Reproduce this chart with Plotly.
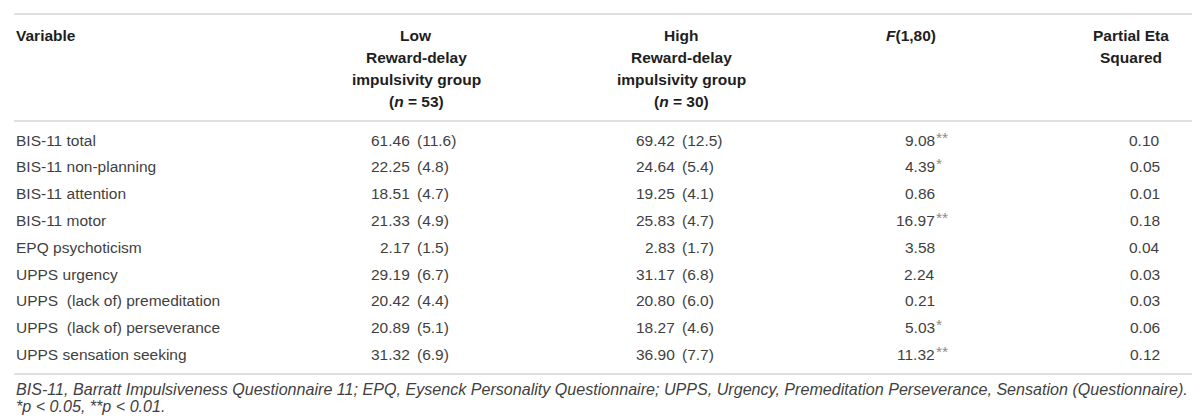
import plotly.graph_objects as go

# ---------------- data ----------------
variables = ["BIS-11 total", "BIS-11 non-planning", "BIS-11 attention", "BIS-11 motor",
             "EPQ psychoticism", "UPPS urgency", "UPPS\u00a0 (lack of) premeditation",
             "UPPS\u00a0 (lack of) perseverance", "UPPS sensation seeking"]
low_mean = ["61.46", "22.25", "18.51", "21.33", "2.17", "29.19", "20.42", "20.89", "31.32"]
low_sd = ["11.6", "4.8", "4.7", "4.9", "1.5", "6.7", "4.4", "5.1", "6.9"]
high_mean = ["69.42", "24.64", "19.25", "25.83", "2.83", "31.17", "20.80", "18.27", "36.90"]
high_sd = ["12.5", "5.4", "4.1", "4.7", "1.7", "6.8", "6.0", "4.6", "7.7"]
f_value = ["9.08", "4.39", "0.86", "16.97", "3.58", "2.24", "0.21", "5.03", "11.32"]
f_sig = ["**", "*", "", "**", "", "", "", "*", "**"]
eta_sq = ["0.10", "0.05", "0.01", "0.18", "0.04", "0.03", "0.03", "0.06", "0.12"]

header_var = ["Variable"]
header_low = ["Low", "Reward-delay", "impulsivity group", "(<i>n</i> = 53)"]
header_high = ["High", "Reward-delay", "impulsivity group", "(<i>n</i> = 30)"]
header_f = ["<i>F</i>(1,80)"]
header_eta = ["Partial Eta", "Squared"]

footnotes = [
    "BIS-11, Barratt Impulsiveness Questionnaire 11; EPQ, Eysenck Personality Questionnaire; "
    "UPPS, Urgency, Premeditation Perseverance, Sensation (Questionnaire).",
    "*p &lt; 0.05, **p &lt; 0.01.",
]

# ---------------- layout constants ----------------
W, H = 1200, 418
FONT = "Liberation Sans, Arial, Helvetica, sans-serif"
BODY_SIZE = 15.5
BODY_COLOR = "#3f3f3f"
HEAD_COLOR = "#1e1e1e"
LINE_COLOR = "#d4d4d4"

head_y0, head_dy = 27, 22
row_y0, row_dy = 132, 26.8
line_ys = [6, 113, 366]
foot_y0, foot_dy = 381, 17

col_var_x = 7
low_split = 405.5
high_split = 670.5
low_center, high_center = 408, 673
f_center, f_right = 903, 928
eta_center, eta_right = 1123, 1153

fig = go.Figure()
fig.add_trace(go.Scatter(x=[0, W], y=[0, H], mode="markers",
                         marker=dict(opacity=0), hoverinfo="skip", showlegend=False))

annotations = []


def ann(x, y, text, xanchor, size=BODY_SIZE, color=BODY_COLOR, bold=False, italic=False):
    if bold:
        text = "<b>" + text + "</b>"
    if italic:
        text = "<i>" + text + "</i>"
    annotations.append(dict(x=x, y=y, xref="x", yref="y", text=text, showarrow=False,
                            xanchor=xanchor, yanchor="middle", borderpad=0,
                            font=dict(family=FONT, size=size, color=color)))


# header
for i, t in enumerate(header_var):
    ann(col_var_x, head_y0 + i * head_dy, t, "left", color=HEAD_COLOR, bold=True)
for i, t in enumerate(header_low):
    ann(low_center, head_y0 + i * head_dy, t, "center", color=HEAD_COLOR, bold=True)
for i, t in enumerate(header_high):
    ann(high_center, head_y0 + i * head_dy, t, "center", color=HEAD_COLOR, bold=True)
for i, t in enumerate(header_f):
    ann(f_center, head_y0 + i * head_dy, t, "center", color=HEAD_COLOR, bold=True)
for i, t in enumerate(header_eta):
    ann(eta_center, head_y0 + i * head_dy, t, "center", color=HEAD_COLOR, bold=True)

# body
for i in range(len(variables)):
    y = row_y0 + i * row_dy
    ann(col_var_x, y, variables[i], "left")
    ann(low_split - 2.5, y, low_mean[i], "right")
    ann(low_split + 2.5, y, "(" + low_sd[i] + ")", "left")
    ann(high_split - 2.5, y, high_mean[i], "right")
    ann(high_split + 2.5, y, "(" + high_sd[i] + ")", "left")
    ann(f_right, y, f_value[i], "right")
    if f_sig[i]:
        ann(f_right - 1, y - 3, f_sig[i], "left", color="#8a8a8a")
    ann(eta_right, y, eta_sq[i], "right")

# footnotes
for i, t in enumerate(footnotes):
    ann(col_var_x, foot_y0 + i * foot_dy, t, "left", size=16.1, color=BODY_COLOR, italic=True)

shapes = [dict(type="line", xref="x", yref="y", x0=6, x1=1193, y0=ly, y1=ly,
               line=dict(color=LINE_COLOR, width=1.3)) for ly in line_ys]

fig.update_layout(
    width=W, height=H,
    margin=dict(l=0, r=0, t=0, b=0),
    paper_bgcolor="white", plot_bgcolor="white",
    xaxis=dict(range=[0, W], visible=False, fixedrange=True),
    yaxis=dict(range=[H, 0], visible=False, fixedrange=True),
    annotations=annotations, shapes=shapes, showlegend=False,
)

fig.write_html("out.html")
